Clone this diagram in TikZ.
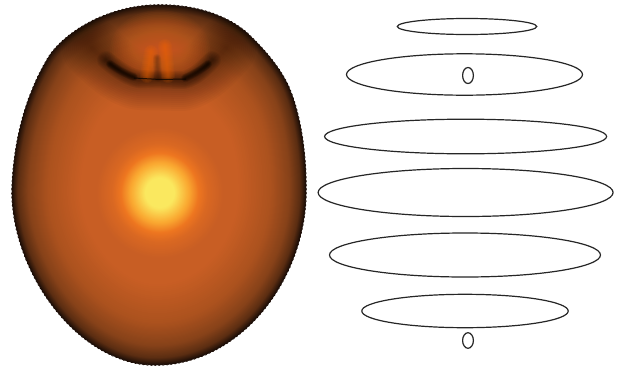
\documentclass[tikz,border=0pt]{standalone}
\usetikzlibrary{decorations.pathmorphing}
\definecolor{bA}{RGB}{30,15,8}
\definecolor{bB}{RGB}{92,46,18}
\definecolor{bC}{RGB}{135,66,25}
\definecolor{bD}{RGB}{172,82,30}
\definecolor{bE}{RGB}{200,94,36}
\definecolor{gA}{RGB}{218,104,34}
\definecolor{gB}{RGB}{238,118,32}
\definecolor{gC}{RGB}{250,170,50}
\definecolor{gD}{RGB}{250,232,95}
\definecolor{glowO}{RGB}{222,105,38}
\newcommand{\silhouette}{(-148,0) .. controls (-146,-55) and (-132,-100) .. (-110,-135)
 .. controls (-92,-160) and (-50,-185) .. (0,-185)
 .. controls (40,-185) and (70,-172) .. (87,-157)
 .. controls (105,-140) and (122,-120) .. (130,-100)
 .. controls (140,-75) and (146,-40) .. (146,0)
 .. controls (146,90) and (80,175) .. (-5,175)
 .. controls (-80,175) and (-148,85) .. (-148,0) -- cycle}
\tikzset{ringline/.style={draw=black!85,line width=1.2pt,fill=none},
 soft/.style={line cap=round,line join=round}}
\begin{document}
\begin{tikzpicture}[x=1pt,y=-1pt]
\useasboundingbox (0,0) rectangle (621,370);
\fill[white] (0,0) rectangle (621,370);
\begin{scope}[shift={(160,190)}]
 \foreach \ca/\cb/\sa/\sb in {bA/bB/100/96,bB/bC/96/89,bC/bD/89/76,bD/bE/76/54}{
  \foreach \t in {0,5,...,95}{
   \pgfmathsetmacro\s{(\sa+(\sb-\sa)*\t/100)/100}
   \pgfmathtruncatemacro\p{100-\t}
   \fill[\ca!\p!\cb,scale=\s] \silhouette;
  }
 }
 \fill[bE,scale=.54] \silhouette;
\end{scope}
% dimple
\begin{scope}
 \clip[shift={(160,190)}] \silhouette;
 % wide dark halo round the dish
 \foreach \w in {60,56,...,4}{
  \draw[soft,black,opacity=.028,line width=\w pt] (92,48) .. controls (108,64) and (124,78) .. (140,80) -- (182,81) .. controls (198,78) and (212,64) .. (226,48);
 }
 % soft lit interior
 \foreach \r in {100,96,...,8}{
  \fill[glowO,opacity=.045] (160,50) circle[x radius=.50*\r,y radius=.40*\r];
 }
 % dark rim
 \foreach \w in {18,16,...,2}{
  \draw[soft,black,opacity=.06,line width=\w pt] (106,60) .. controls (116,68) and (126,76) .. (138,79) -- (184,80) .. controls (196,77) and (204,68) .. (212,60);
 }
 % black crescents
 \foreach \w in {8,7,...,1}{
  \draw[soft,black,opacity=.10,line width=\w pt] (110,64) .. controls (117,69) and (125,74) .. (134,77);
  \draw[soft,black,opacity=.10,line width=\w pt] (208,64) .. controls (202,69) and (194,74) .. (185,78);
 }
 % streaks
 \foreach \w in {14,12,...,2}{
  \draw[soft,orange!85!red,opacity=.08,line width=\w pt] (147,76) -- (151,52);
  \draw[soft,orange!85!red,opacity=.08,line width=\w pt] (168,76) -- (165,46);
 }
 \foreach \w in {8,6,4,2}{
  \draw[soft,black,opacity=.06,line width=\w pt] (158,78) -- (157,58);
 }
 \draw[black,line width=1pt,opacity=.7] (134,78) -- (160,79.5) -- (186,79);
\end{scope}
% central glow
\foreach \ca/\cb/\ra/\rb in {bE/gA/64/48,gA/gB/48/39,gB/gC/39/29,gC/gD/29/15}{
 \foreach \t in {0,4,...,96}{
  \pgfmathsetmacro\r{\ra+(\rb-\ra)*\t/100}
  \pgfmathtruncatemacro\p{100-\t}
  \fill[\ca!\p!\cb] (160,193) circle[x radius=\r,y radius=1.03*\r];
 }
}
\fill[gD] (160,193) circle[radius=15];
\draw[bA,line width=.9pt,shift={(160,190)},decorate,decoration={zigzag,segment length=4pt,amplitude=.4pt}] \silhouette;
% rings
\draw[ringline] (467,26.5) ellipse[x radius=69.7,y radius=8];
\draw[ringline] (464.5,74.5) ellipse[x radius=118,y radius=20.7];
\draw[ringline] (468,75.5) ellipse[x radius=5.4,y radius=8];
\draw[ringline] (465.6,136.5) ellipse[x radius=141,y radius=17.3];
\draw[ringline] (465.6,192.5) ellipse[x radius=147.5,y radius=24];
\draw[ringline] (465,255) ellipse[x radius=135.5,y radius=22];
\draw[ringline] (465,311) ellipse[x radius=103.2,y radius=16.7];
\draw[ringline] (468,340.5) ellipse[x radius=5.4,y radius=7.8];
\end{tikzpicture}
\end{document}
